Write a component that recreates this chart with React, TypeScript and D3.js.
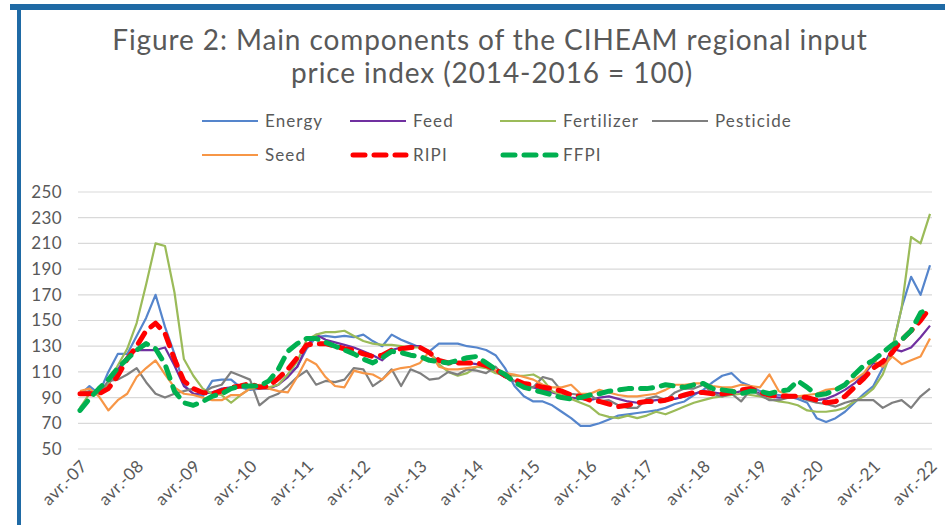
import { useRef, useEffect } from 'react';
import * as d3 from 'd3';

// bimonthly readings, Apr 2007 -> Apr 2022 (6 per row = Apr, Jun, Aug, Oct, Dec, Feb)
const energy = [
  92, 99, 93, 110, 124, 124,
  138, 152, 170, 145, 124, 100,
  93, 91, 103, 104, 104, 98,
  96, 97, 97, 100, 108, 114,
  128, 137, 138, 137, 138, 137,
  139, 134, 130, 139, 135, 132,
  129, 126, 132, 132, 132, 130,
  129, 127, 123, 113, 99, 91,
  87, 87, 84, 79, 74, 68,
  68, 70, 73, 76, 77, 78,
  79, 80, 82, 85, 87, 92,
  96, 102, 107, 109, 102, 99,
  95, 93, 92, 91, 89, 86,
  74, 71, 74, 79, 86, 93,
  99, 113, 128, 160, 184, 170,
  193,
];
const feed = [
  93, 93, 94, 100, 112, 122,
  127, 127, 127, 129, 115, 99,
  93, 93, 94, 97, 98, 99,
  99, 98, 97, 100, 106, 114,
  130, 139, 135, 133, 131, 129,
  126, 123, 119, 127, 129, 130,
  130, 124, 118, 117, 117, 117,
  116, 114, 110, 106, 103, 100,
  98, 96, 94, 92, 90, 89,
  88, 90, 91, 89, 87, 86,
  87, 88, 89, 89, 91, 93,
  95, 94, 93, 93, 95, 96,
  93, 91, 90, 90, 91, 89,
  88, 89, 92, 96, 101, 108,
  117, 114, 128, 126, 129, 137,
  146,
];
const fertilizer = [
  82, 93, 93, 100, 115, 128,
  148, 178, 210, 208, 172, 120,
  107, 97, 93, 92, 86, 92,
  97, 100, 98, 100, 108, 118,
  135, 139, 141, 141, 142, 138,
  134, 132, 131, 131, 130, 129,
  129, 126, 116, 110, 107, 109,
  114, 113, 109, 108, 107, 107,
  108, 104, 95, 92, 89, 86,
  83, 77, 75, 74, 76, 74,
  76, 79, 77, 80, 83, 86,
  88, 90, 91, 92, 93, 92,
  91, 89, 87, 86, 84, 80,
  79, 79, 80, 82, 87, 91,
  97, 108, 128, 160, 215, 210,
  233,
];
const pesticide = [
  93, 95, 93, 103, 104, 108,
  113, 102, 93, 90, 93, 95,
  97, 94, 98, 100, 110, 107,
  104, 84, 90, 93, 99, 106,
  111, 100, 103, 102, 104, 113,
  112, 99, 104, 112, 99, 112,
  109, 104, 105, 110, 108, 112,
  111, 109, 114, 106, 103, 99,
  98, 106, 104, 95, 93, 92,
  92, 87, 88, 84, 82, 82,
  89, 91, 88, 94, 97, 97,
  100, 93, 91, 93, 87, 96,
  92, 88, 88, 90, 91, 88,
  86, 85, 83, 86, 88, 88,
  88, 82, 86, 88, 82, 91,
  97,
];
const seed = [
  95, 97, 91, 80, 88, 93,
  106, 113, 119, 108, 98, 93,
  92, 90, 88, 88, 92, 92,
  97, 98, 97, 95, 94, 106,
  120, 116, 106, 99, 98, 111,
  109, 108, 104, 111, 113, 114,
  117, 126, 114, 112, 112, 113,
  114, 118, 111, 109, 108, 106,
  104, 100, 98, 98, 100, 93,
  93, 96, 94, 92, 91, 91,
  92, 93, 96, 100, 100, 101,
  101, 99, 98, 98, 100, 99,
  98, 108, 95, 92, 91, 92,
  93, 96, 97, 100, 104, 109,
  119, 114, 122, 116, 119, 122,
  136,
];
const ripi = [
  93, 93, 93, 97, 107, 120,
  130, 142, 148, 140, 120, 103,
  97, 94, 93, 95, 98, 99,
  101, 98, 99, 105, 112, 121,
  131, 132, 132, 130, 128, 127,
  124, 122, 123, 127, 128, 129,
  129, 125, 119, 117, 117, 117,
  117, 115, 112, 107, 104, 101,
  100, 98, 97, 95, 92, 91,
  88, 87, 85, 83, 84, 86,
  87, 87, 88, 90, 92, 94,
  94, 93, 93, 94, 96, 97,
  94, 92, 91, 91, 91, 90,
  88, 86, 87, 91, 98, 105,
  113, 118, 125, 135, 142, 150,
  160,
];
const ffpi = [
  80, 89, 97, 104, 113, 120,
  127, 132, 128, 116, 95, 86,
  84, 87, 91, 93, 97, 99,
  99, 99, 103, 112, 126, 132,
  136, 136, 133, 130, 127, 124,
  120, 117, 121, 126, 125, 123,
  122, 119, 118, 117, 119, 121,
  122, 117, 112, 108, 102, 98,
  96, 94, 92, 90, 89, 90,
  92, 93, 95, 96, 97, 97,
  97, 98, 100, 99, 98, 100,
  101, 97, 96, 95, 93, 95,
  95, 93, 95, 96, 103, 98,
  92, 93, 96, 100, 108, 115,
  119, 125, 131, 135, 142, 156,
  160,
];

const tickLabels = [
  'avr.-07', 'avr.-08', 'avr.-09', 'avr.-10', 'avr.-11', 'avr.-12', 'avr.-13', 'avr.-14',
  'avr.-15', 'avr.-16', 'avr.-17', 'avr.-18', 'avr.-19', 'avr.-20', 'avr.-21', 'avr.-22',
];
const yTicks = [50, 70, 90, 110, 130, 150, 170, 190, 210, 230, 250];

const seriesNames = ['Energy', 'Feed', 'Fertilizer', 'Pesticide', 'Seed', 'RIPI', 'FFPI'];
const seriesColors = ['#5585cc', '#7030a0', '#9bbb59', '#7f7f7f', '#f79646', '#ff0000', '#00b050'];
const seriesData = [energy, feed, fertilizer, pesticide, seed, ripi, ffpi];
const seriesDashed = [false, false, false, false, false, true, true];

const FONT = 'Lato, "Open Sans", sans-serif';
const TEXT = '#595959';

export default function App() {
  const svgRef = useRef<SVGSVGElement>(null);
  const width = 945;
  const height = 525;

  useEffect(() => {
    if (!svgRef.current) return;
    const svg = d3.select(svgRef.current);
    svg.selectAll('*').remove();

    // frame
    svg.append('rect').attr('width', width).attr('height', height).attr('fill', '#fff');
    svg.append('rect').attr('x', 10).attr('y', 4).attr('width', width - 10).attr('height', 6).attr('fill', '#1f6aa5');
    svg.append('rect').attr('x', 17).attr('y', 4).attr('width', 4).attr('height', height - 4).attr('fill', '#1f6aa5');

    // title
    const title = svg.append('g')
      .attr('font-family', FONT)
      .attr('font-size', 28)
      .attr('letter-spacing', 0.9)
      .attr('fill', TEXT)
      .attr('text-anchor', 'middle');
    title.append('text').attr('x', 490).attr('y', 50).text('Figure 2: Main components of the CIHEAM regional input');
    title.append('text').attr('x', 492).attr('y', 83).text('price index (2014-2016 = 100)');

    const plotLeft = 78;
    const plotRight = 932;

    // month index 0 = Apr 2007, 180 = Apr 2022
    const x = d3.scaleLinear().domain([0, 180]).range([80, 930]);
    const y = d3.scaleLinear().domain([50, 250]).range([449, 192]);

    // gridlines
    svg.append('g')
      .selectAll('line')
      .data(yTicks)
      .join('line')
      .attr('x1', plotLeft)
      .attr('x2', plotRight)
      .attr('y1', d => y(d))
      .attr('y2', d => y(d))
      .attr('stroke', '#d9d9d9')
      .attr('stroke-width', 1.2);

    // y labels
    svg.append('g')
      .attr('font-family', FONT)
      .attr('font-size', 17)
      .attr('letter-spacing', 0.4)
      .attr('fill', TEXT)
      .attr('text-anchor', 'end')
      .selectAll('text')
      .data(yTicks)
      .join('text')
      .attr('x', 62)
      .attr('y', d => y(d))
      .attr('dy', '0.35em')
      .text(d => d);

    // x labels
    svg.append('g')
      .attr('font-family', FONT)
      .attr('font-size', 17)
      .attr('letter-spacing', 0.4)
      .attr('fill', TEXT)
      .attr('text-anchor', 'end')
      .selectAll('text')
      .data(tickLabels)
      .join('text')
      .attr('transform', (_d, i) => `translate(${x(i * 12) + 4},${463}) rotate(-45)`)
      .attr('dy', '0.35em')
      .text(d => d);

    // lines
    const line = d3.line<number>()
      .x((_d, i) => x(i * 2))
      .y(d => y(d));

    seriesData.forEach((data, k) => {
      svg.append('path')
        .datum(data)
        .attr('fill', 'none')
        .attr('stroke', seriesColors[k])
        .attr('stroke-width', seriesDashed[k] ? 5 : 2.2)
        .attr('stroke-dasharray', seriesDashed[k] ? '12,9' : null)
        .attr('stroke-linecap', seriesDashed[k] ? 'round' : 'butt')
        .attr('stroke-linejoin', 'round')
        .attr('d', line);
    });

    // legend
    const legendPos = [
      [202, 121], [350, 121], [500, 121], [652, 121],
      [202, 155], [350, 155], [500, 155],
    ];
    const legend = svg.append('g')
      .attr('font-family', FONT)
      .attr('font-size', 17)
      .attr('letter-spacing', 1.1)
      .attr('fill', TEXT);
    seriesNames.forEach((name, k) => {
      const [lx, ly] = legendPos[k];
      legend.append('line')
        .attr('x1', lx + (seriesDashed[k] ? 3 : 0))
        .attr('x2', lx + 56)
        .attr('y1', ly)
        .attr('y2', ly)
        .attr('stroke', seriesColors[k])
        .attr('stroke-width', seriesDashed[k] ? 5 : 2.2)
        .attr('stroke-dasharray', seriesDashed[k] ? '12,9' : null)
        .attr('stroke-linecap', seriesDashed[k] ? 'round' : 'butt');
      legend.append('text')
        .attr('x', lx + 63)
        .attr('y', ly)
        .attr('dy', '0.35em')
        .text(name);
    });
  }, []);

  return (
    <svg
      ref={svgRef}
      width={width}
      height={height}
      style={{ position: 'absolute', left: 0, top: 0, display: 'block' }}
    />
  );
}
